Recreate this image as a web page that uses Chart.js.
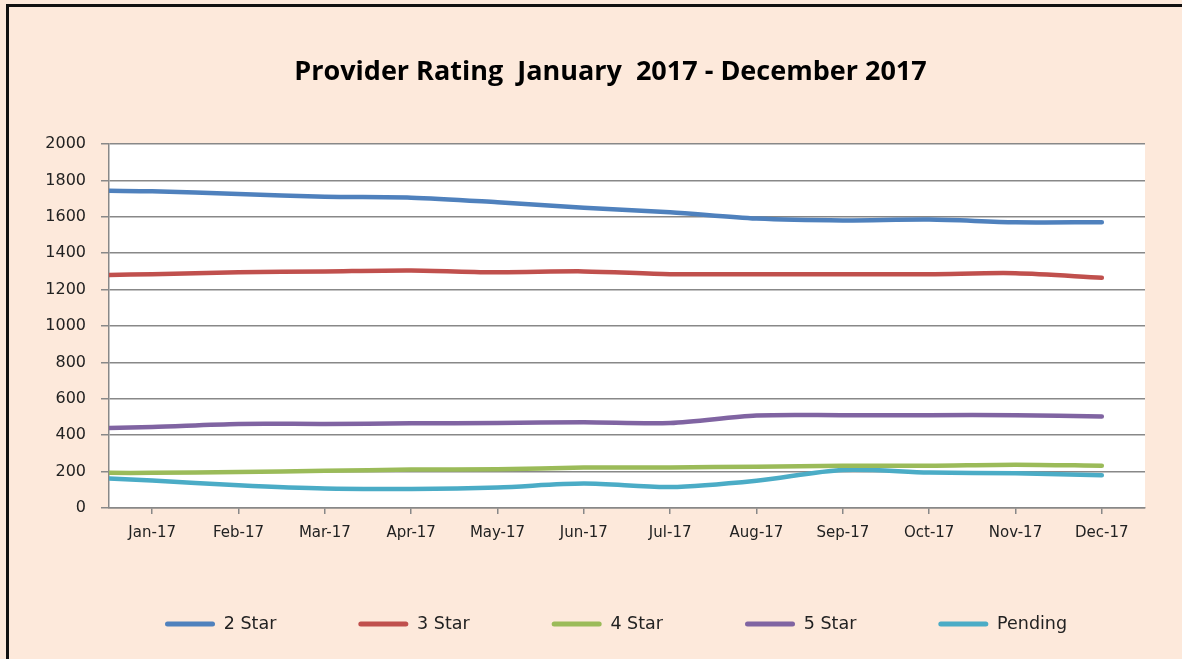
<!DOCTYPE html>
<html>
<head>
<meta charset="utf-8">
<script src="https://cdn.jsdelivr.net/npm/chart.js@4"></script>
<style>
  html, body { margin: 0; padding: 0; background: #fde9db; overflow: hidden; }
  #wrap { position: absolute; left: 0; top: 0; width: 1182px; height: 659px; }
  #frame { position: absolute; left: 6px; top: 4px; width: 1300px; height: 800px;
           border-left: 3px solid #111; border-top: 3px solid #111; pointer-events: none; }
</style>
</head>
<body>
<div id="wrap"><canvas id="container"></canvas></div>
<div id="frame"></div>
<script>
const categories = ['Jan-17', 'Feb-17', 'Mar-17', 'Apr-17', 'May-17', 'Jun-17',
                    'Jul-17', 'Aug-17', 'Sep-17', 'Oct-17', 'Nov-17', 'Dec-17'];
const seriesNames = ['2 Star', '3 Star', '4 Star', '5 Star', 'Pending'];
const star2 = [1740, 1725, 1710, 1705, 1680, 1650, 1625, 1590, 1580, 1585, 1570, 1570];
const star3 = [1285, 1295, 1300, 1305, 1295, 1300, 1285, 1285, 1285, 1285, 1290, 1265];
const star4 = [193, 198, 204, 211, 213, 222, 223, 227, 232, 232, 238, 232];
const star5 = [445, 462, 462, 465, 467, 471, 467, 508, 510, 510, 510, 503];
const pending = [151, 125, 107, 105, 113, 134, 115, 150, 209, 195, 191, 180];
// value where each line meets the y axis (lines start at the axis in the picture)
const axisEdge = [1743, 1280, 193, 440, 162];
const yTicks = [0, 200, 400, 600, 800, 1000, 1200, 1400, 1600, 1800, 2000];

const colors = ['#4f81bd', '#c0504d', '#9bbb59', '#8064a2', '#4bacc6'];
const FONT = 'DejaVu Sans';
const LEGEND_FONT = 17.5;
const LEGEND_PAD = 82;

function points(values, edge) {
    var pts = [{x: -0.5, y: edge}];
    values.forEach(function(v, i) { pts.push({x: i, y: v}); });
    return pts;
}

const allValues = [star2, star3, star4, star5, pending];
const datasets = allValues.map(function(vals, i) {
    return {
        label: seriesNames[i],
        data: points(vals, axisEdge[i]),
        xAxisID: 'xl',
        borderColor: colors[i],
        backgroundColor: colors[i],
        borderWidth: 4.5,
        pointRadius: 0,
        tension: 0.3,
        borderCapStyle: 'round'
    };
});

// white plot area
const plotBg = {
    id: 'plotBg',
    beforeDraw: function(chart) {
        const a = chart.chartArea;
        chart.ctx.save();
        chart.ctx.fillStyle = '#ffffff';
        chart.ctx.fillRect(a.left, a.top, a.right - a.left, a.bottom - a.top);
        chart.ctx.restore();
    }
};

// move title and legend to where the picture has them
const placeBoxes = {
    id: 'placeBoxes',
    afterLayout: function(chart) {
        const t = chart.titleBlock;
        t.left += 38; t.right += 38;
        const lg = chart.legend;
        lg.top = 624 - LEGEND_FONT / 2 - LEGEND_PAD;
        lg.bottom = 659;
        lg.left = 165 - LEGEND_PAD;
        lg.right = 1182;
    }
};

const ctx = document.getElementById('container').getContext('2d');
var chart = new Chart(ctx, {
    type: 'line',
    data: { labels: categories, datasets: datasets },
    plugins: [plotBg, placeBoxes],
    options: {
        responsive: true,
        maintainAspectRatio: false,
        animation: false,
        layout: { padding: { left: 0, right: 37, top: 0, bottom: 71 } },
        plugins: {
            tooltip: { enabled: false },
            title: {
                display: true,
                text: 'Provider Rating  January  2017 - December 2017',
                color: '#000',
                font: { family: 'Open Sans', size: 27, weight: 'bold' },
                padding: { top: 56, bottom: 55.6 }
            },
            legend: {
                position: 'bottom',
                align: 'start',
                maxHeight: 30,
                labels: {
                    boxWidth: 50,
                    boxHeight: 5,
                    padding: LEGEND_PAD,
                    color: '#222',
                    useBorderRadius: true,
                    borderRadius: 2.5,
                    font: { family: FONT, size: LEGEND_FONT },
                    generateLabels: function(chart) {
                        return Chart.defaults.plugins.legend.labels.generateLabels(chart).map(function(item) {
                            item.lineWidth = 0;
                            return item;
                        });
                    }
                }
            }
        },
        scales: {
            x: {
                type: 'category',
                offset: true,
                grid: { drawOnChartArea: false, drawTicks: true, tickLength: 6, color: '#888', lineWidth: 1.5 },
                border: { display: true, color: '#888', width: 1.5 },
                ticks: { color: '#222', padding: 10, font: { family: FONT, size: 15 }, maxRotation: 0, autoSkip: false },
                afterFit: function(scale) { scale.height = 50; }
            },
            xl: {
                type: 'linear',
                display: false,
                min: -0.5,
                max: 11.5
            },
            y: {
                min: 0,
                max: 2000,
                afterBuildTicks: function(scale) { scale.ticks = yTicks.map(function(v) { return {value: v}; }); },
                grid: { color: '#888', lineWidth: 1.5, tickLength: 8 },
                border: { display: true, color: '#888', width: 1.5 },
                ticks: { color: '#222', padding: 15, font: { family: FONT, size: 16 },
                         callback: function(v) { return String(v); } },
                afterFit: function(scale) { scale.width = 109; }
            }
        }
    }
});
</script>
</body>
</html>
